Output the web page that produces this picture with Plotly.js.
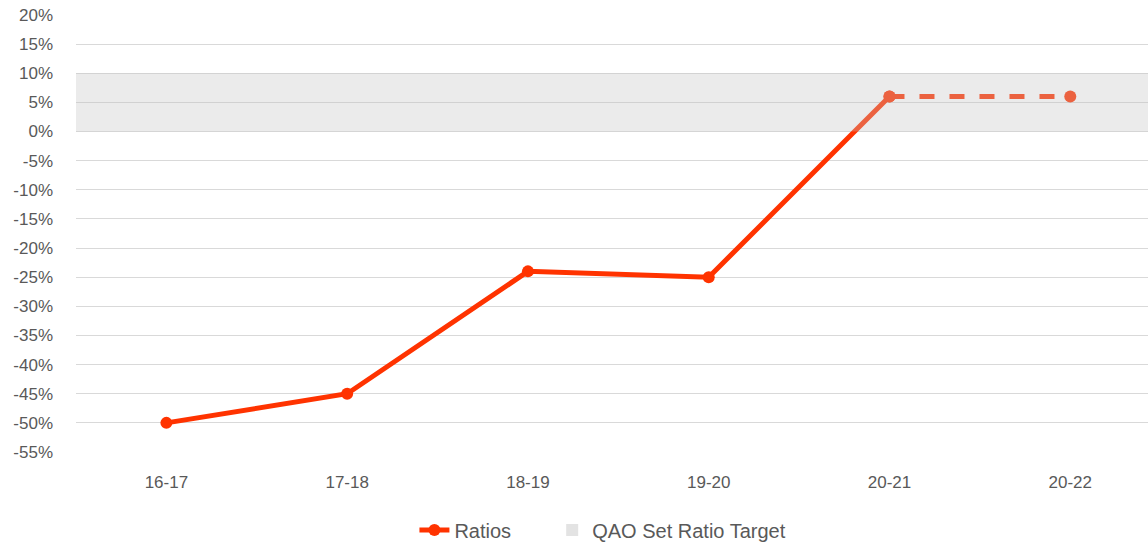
<!DOCTYPE html>
<html>
<head>
<meta charset="utf-8">
<script src="https://cdn.plot.ly/plotly-3.0.1.min.js"></script>
<style>html,body{margin:0;padding:0;background:#fff}#chart{width:1148px;height:543px}</style>
</head>
<body>
<div id="chart"></div>
<script>
const categories = ["16-17", "17-18", "18-19", "19-20", "20-21", "20-22"];
const ratioValues = [-50, -45, -24, -25, 6, null];
const projectedCategories = ["20-21", "20-22"];
const projectedValues = [6, 6];
const targetLow = 0;
const targetHigh = 10;
const yTicks = [20, 15, 10, 5, 0, -5, -10, -15, -20, -25, -30, -35, -40, -45, -50, -55];

const red = "#FF3300";
const traces = [
  {
    x: categories, y: ratioValues, name: "Ratios", type: "scatter", mode: "lines+markers",
    line: {color: red, width: 5}, marker: {color: red, size: 12}, legend: "legend"
  },
  {
    x: projectedCategories, y: projectedValues, name: "Projected", type: "scatter", mode: "lines+markers",
    line: {color: red, width: 5, dash: "dash"}, marker: {color: red, size: 12}, showlegend: false
  },
  {
    x: [null], y: [null], name: "QAO Set Ratio Target", type: "scatter", mode: "markers",
    marker: {symbol: "square", color: "#E3E3E3", size: 12}, legend: "legend2"
  }
];

const legendCommon = {orientation: "h", xref: "container", yref: "container", y: 0.024, yanchor: "middle",
                      xanchor: "left", font: {size: 20, color: "#595959"}, bgcolor: "rgba(0,0,0,0)"};

const layout = {
  width: 1148, height: 543,
  margin: {l: 76, r: 0, t: 15, b: 91},
  paper_bgcolor: "#fff", plot_bgcolor: "#fff",
  font: {family: "Liberation Sans, Arial, sans-serif", color: "#595959", size: 17},
  showlegend: true,
  legend: Object.assign({}, legendCommon, {x: 0.361}),
  legend2: Object.assign({}, legendCommon, {x: 0.481}),
  xaxis: {type: "category", range: [-0.5, 5.43], showgrid: false, zeroline: false, automargin: false,
          showline: false, ticks: "", tickfont: {size: 17}, ticklabelstandoff: 18, fixedrange: true},
  yaxis: {range: [-55, 20], tickvals: yTicks, ticktext: yTicks.map(v => v + "%"), automargin: false,
          showgrid: true, gridcolor: "#D9D9D9", gridwidth: 1, zeroline: false,
          ticks: "", tickfont: {size: 17}, ticklabelstandoff: 22, fixedrange: true},
  shapes: [{
    type: "rect", xref: "paper", yref: "y", x0: 0, x1: 1, y0: targetLow, y1: targetHigh,
    fillcolor: "rgba(194,194,194,0.33)", line: {width: 0}, layer: "above"
  }]
};

Plotly.newPlot("chart", traces, layout, {displayModeBar: false, staticPlot: true});
</script>
</body>
</html>
